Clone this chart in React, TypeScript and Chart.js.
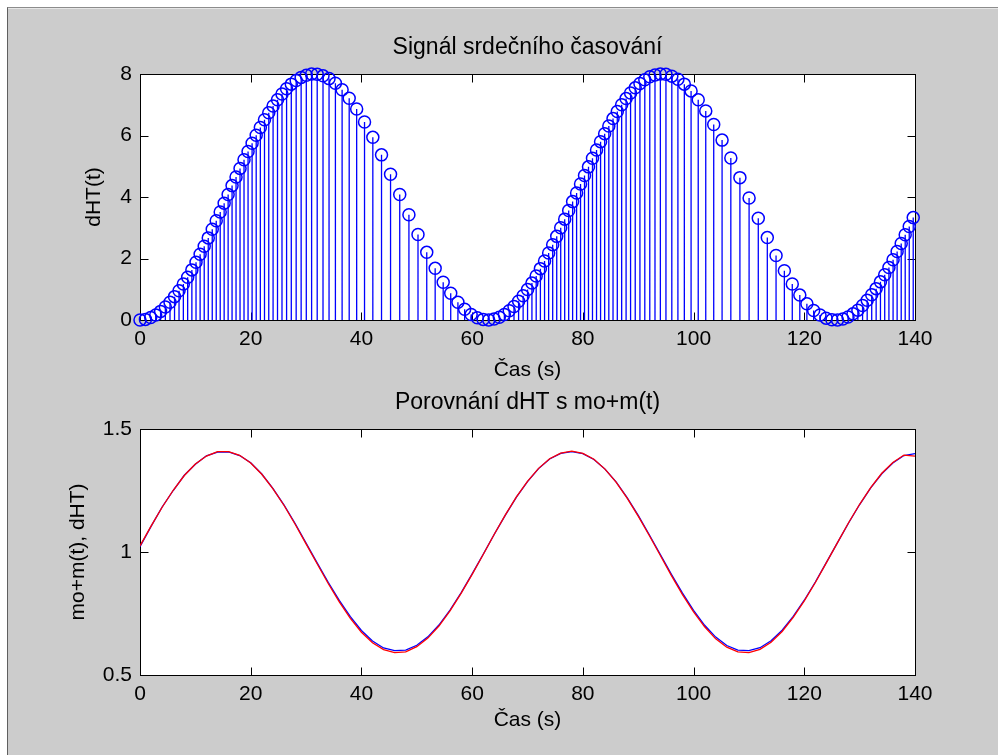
import React, { useEffect, useRef } from "react";
import { Chart, registerables } from "chart.js";
Chart.register(...registerables);

// ---- data ----
const xTicks = [0, 20, 40, 60, 80, 100, 120, 140];
const yTicksTop = [0, 2, 4, 6, 8];
const yTicksBottom = [0.5, 1, 1.5];

// stem plot: sample times (s) and dHT(t) values
const tStem = [
  0, 0.98, 1.93, 2.84, 3.72, 4.58, 5.42, 6.24, 7.05, 7.83,
  8.61, 9.37, 10.12, 10.86, 11.6, 12.33, 13.05, 13.77, 14.49, 15.2,
  15.92, 16.63, 17.35, 18.07, 18.79, 19.52, 20.25, 20.99, 21.74, 22.49,
  23.26, 24.04, 24.84, 25.65, 26.48, 27.33, 28.21, 29.11, 30.04, 31.0,
  32.01, 33.06, 34.15, 35.3, 36.51, 37.79, 39.14, 40.56, 42.06, 43.63,
  45.26, 46.92, 48.58, 50.22, 51.8, 53.32, 54.77, 56.13, 57.43, 58.65,
  59.82, 60.93, 61.99, 63.0, 63.97, 64.91, 65.82, 66.7, 67.56, 68.39,
  69.21, 70.01, 70.8, 71.57, 72.33, 73.08, 73.82, 74.55, 75.28, 76.0,
  76.72, 77.44, 78.15, 78.87, 79.58, 80.3, 81.02, 81.74, 82.47, 83.2,
  83.94, 84.69, 85.45, 86.22, 87.01, 87.81, 88.62, 89.46, 90.31, 91.19,
  92.09, 93.03, 94.0, 95.01, 96.07, 97.17, 98.33, 99.55, 100.84, 102.2,
  103.64, 105.15, 106.73, 108.37, 110.03, 111.69, 113.32, 114.9, 116.4, 117.83,
  119.19, 120.47, 121.69, 122.84, 123.94, 124.99, 126.0, 126.97, 127.9, 128.8,
  129.68, 130.53, 131.36, 132.18, 132.98, 133.76, 134.53, 135.29, 136.04, 136.77,
  137.51, 138.23, 138.96, 139.68,
];
const dHT = [
  0.0, 0.02, 0.08, 0.16, 0.28, 0.42, 0.58, 0.76, 0.95, 1.17,
  1.39, 1.63, 1.88, 2.14, 2.4, 2.67, 2.95, 3.23, 3.51, 3.8,
  4.08, 4.37, 4.65, 4.93, 5.21, 5.48, 5.75, 6.01, 6.26, 6.51,
  6.74, 6.96, 7.16, 7.35, 7.52, 7.67, 7.79, 7.89, 7.96, 8.0,
  7.99, 7.94, 7.85, 7.7, 7.49, 7.21, 6.86, 6.44, 5.94, 5.37,
  4.74, 4.08, 3.42, 2.78, 2.2, 1.68, 1.23, 0.87, 0.58, 0.35,
  0.18, 0.07, 0.02, 0.0, 0.03, 0.09, 0.18, 0.3, 0.44, 0.61,
  0.79, 0.99, 1.2, 1.43, 1.67, 1.92, 2.18, 2.45, 2.72, 3.0,
  3.28, 3.56, 3.85, 4.13, 4.42, 4.7, 4.98, 5.26, 5.53, 5.8,
  6.06, 6.31, 6.55, 6.78, 7.0, 7.2, 7.38, 7.55, 7.69, 7.81,
  7.91, 7.97, 8.0, 7.99, 7.93, 7.83, 7.67, 7.45, 7.16, 6.8,
  6.36, 5.85, 5.27, 4.63, 3.97, 3.31, 2.68, 2.1, 1.6, 1.17,
  0.81, 0.53, 0.31, 0.16, 0.06, 0.01, 0.0, 0.03, 0.1, 0.2,
  0.32, 0.47, 0.64, 0.82, 1.02, 1.24, 1.47, 1.71, 1.96, 2.23,
  2.49, 2.77, 3.04, 3.33,
];

// comparison plot
const tLine = [
  0, 2, 4, 6, 8, 10, 12, 14, 16, 18, 20, 22, 24, 26, 28, 30, 32, 34, 36, 38,
  40, 42, 44, 46, 48, 50, 52, 54, 56, 58, 60, 62, 64, 66, 68, 70, 72, 74, 76, 78,
  80, 82, 84, 86, 88, 90, 92, 94, 96, 98, 100, 102, 104, 106, 108, 110, 112, 114, 116, 118,
  120, 122, 124, 126, 128, 130, 132, 134, 136, 138, 140,
];
const moPlusM = [
  1.025, 1.105, 1.182, 1.251, 1.311, 1.358, 1.39, 1.408, 1.408, 1.393,
  1.362, 1.316, 1.258, 1.19, 1.114, 1.033, 0.952, 0.872, 0.797, 0.73,
  0.674, 0.631, 0.603, 0.591, 0.594, 0.615, 0.65, 0.699, 0.761, 0.832,
  0.909, 0.99, 1.072, 1.151, 1.224, 1.287, 1.34, 1.379, 1.402, 1.41,
  1.401, 1.377, 1.337, 1.284, 1.219, 1.146, 1.067, 0.986, 0.904, 0.827,
  0.757, 0.696, 0.647, 0.613, 0.594, 0.591, 0.604, 0.633, 0.677, 0.734,
  0.801, 0.876, 0.957, 1.038, 1.119, 1.194, 1.262, 1.32, 1.364, 1.394,
  1.39,
];
const dHTRate = [
  1.022, 1.104, 1.183, 1.25, 1.312, 1.357, 1.391, 1.406, 1.407, 1.392,
  1.363, 1.317, 1.259, 1.192, 1.117, 1.036, 0.956, 0.877, 0.803, 0.737,
  0.681, 0.638, 0.61, 0.599, 0.601, 0.621, 0.655, 0.703, 0.764, 0.834,
  0.911, 0.991, 1.072, 1.15, 1.223, 1.286, 1.339, 1.378, 1.401, 1.408,
  1.4, 1.376, 1.337, 1.285, 1.221, 1.149, 1.07, 0.99, 0.909, 0.833,
  0.763, 0.702, 0.654, 0.62, 0.601, 0.599, 0.611, 0.639, 0.682, 0.738,
  0.804, 0.878, 0.958, 1.038, 1.118, 1.193, 1.261, 1.318, 1.362, 1.392,
  1.4,
];

const FONT = '"Liberation Sans", Arial, Helvetica, sans-serif';
const TICK_SIZE = 21;
const TITLE_SIZE = 23;

const matlabAxes = {
  id: "matlabAxes",
  beforeDatasetsDraw(chart: any, _args: any, opts: any) {
    const { ctx, chartArea: a, scales } = chart;
    ctx.save();
    ctx.fillStyle = "#ffffff";
    ctx.fillRect(a.left, a.top, a.right - a.left, a.bottom - a.top);
    ctx.strokeStyle = "#000000";
    ctx.lineWidth = 1;
    const l = Math.round(a.left) + 0.5;
    const r = Math.round(a.right) + 0.5;
    const t = Math.round(a.top) + 0.5;
    const b = Math.round(a.bottom) + 0.5;
    ctx.strokeRect(l, t, r - l, b - t);
    const L = 8;
    ctx.beginPath();
    scales.x.ticks.forEach((tk: any) => {
      const px = Math.round(scales.x.getPixelForValue(tk.value)) + 0.5;
      ctx.moveTo(px, b);
      ctx.lineTo(px, b - L);
      ctx.moveTo(px, t);
      ctx.lineTo(px, t + L);
    });
    scales.y.ticks.forEach((tk: any) => {
      const py = Math.round(scales.y.getPixelForValue(tk.value)) + 0.5;
      ctx.moveTo(l, py);
      ctx.lineTo(l + L, py);
      ctx.moveTo(r, py);
      ctx.lineTo(r - L, py);
    });
    ctx.stroke();
    if (opts && opts.stem) {
      const meta = chart.getDatasetMeta(0);
      const y0 = scales.y.getPixelForValue(0);
      ctx.strokeStyle = "#0000ff";
      ctx.lineWidth = 1.3;
      ctx.beginPath();
      meta.data.forEach((el: any) => {
        ctx.moveTo(el.x, y0);
        ctx.lineTo(el.x, el.y);
      });
      ctx.stroke();
    }
    ctx.restore();
  },
};

function makeScales(opts: {
  yTicks: number[];
  yMin: number;
  yMax: number;
  yTitle: string;
  yTitlePad: number;
  xHeight: number;
  xTitlePad: number;
}) {
  const tickFont = { family: FONT, size: TICK_SIZE, weight: "normal" as const };
  return {
    x: {
      type: "linear" as const,
      min: 0,
      max: 140,
      offset: false,
      grid: { display: false, drawTicks: false },
      border: { display: false },
      afterBuildTicks: (s: any) => {
        s.ticks = xTicks.map((v) => ({ value: v }));
      },
      afterFit: (s: any) => {
        s.height = opts.xHeight;
      },
      ticks: {
        color: "#000",
        font: tickFont,
        padding: 7,
        maxRotation: 0,
        autoSkip: false,
        callback: (v: any) => String(v),
      },
      title: {
        display: true,
        text: "Čas (s)",
        color: "#000",
        font: tickFont,
        padding: { top: 0, bottom: opts.xTitlePad },
      },
    },
    y: {
      type: "linear" as const,
      min: opts.yMin,
      max: opts.yMax,
      grid: { display: false, drawTicks: false },
      border: { display: false },
      afterBuildTicks: (s: any) => {
        s.ticks = opts.yTicks.map((v) => ({ value: v }));
      },
      afterFit: (s: any) => {
        s.width = 140;
      },
      ticks: {
        color: "#000",
        font: tickFont,
        padding: 8,
        autoSkip: false,
        callback: (v: any) => String(v),
      },
      title: {
        display: true,
        text: opts.yTitle,
        color: "#000",
        font: tickFont,
        padding: { top: opts.yTitlePad, bottom: 0 },
      },
    },
  };
}

export default function App() {
  const c1 = useRef<HTMLCanvasElement>(null);
  const c2 = useRef<HTMLCanvasElement>(null);

  useEffect(() => {
    const top = new Chart(c1.current as HTMLCanvasElement, {
      type: "scatter",
      data: {
        datasets: [
          {
            data: tStem.map((t, i) => ({ x: t, y: dHT[i] })),
            showLine: false,
            pointStyle: "circle",
            pointRadius: 6,
            pointHoverRadius: 6,
            pointBorderColor: "#0000ff",
            pointBackgroundColor: "rgba(0,0,0,0)",
            pointBorderWidth: 1.5,
            clip: false as any,
          },
        ],
      },
      options: {
        animation: false,
        responsive: false,
        maintainAspectRatio: false,
        devicePixelRatio: 1,
        events: [],
        layout: { padding: { left: 0, right: 83, top: 0, bottom: 0 } },
        plugins: {
          legend: { display: false },
          tooltip: { enabled: false },
          title: {
            display: true,
            text: "Signál srdečního časování",
            color: "#000",
            fullSize: false,
            font: { family: FONT, size: TITLE_SIZE, weight: "normal" },
            padding: { top: 34.2, bottom: 12.2 },
          },
          matlabAxes: { stem: true },
        } as any,
        scales: makeScales({
          yTicks: yTicksTop,
          yMin: 0,
          yMax: 8,
          yTitle: "dHT(t)",
          yTitlePad: 82,
          xHeight: 80,
          xTitlePad: 17.4,
        }) as any,
      },
      plugins: [matlabAxes],
    });

    const bottom = new Chart(c2.current as HTMLCanvasElement, {
      type: "line",
      data: {
        datasets: [
          {
            data: tLine.map((t, i) => ({ x: t, y: moPlusM[i] })),
            borderColor: "#ff0000",
            borderWidth: 1.3,
            pointRadius: 0,
            tension: 0,
            fill: false,
          },
          {
            data: tLine.map((t, i) => ({ x: t, y: dHTRate[i] })),
            borderColor: "#0000ff",
            borderWidth: 1.3,
            pointRadius: 0,
            tension: 0,
            fill: false,
          },
        ],
      },
      options: {
        animation: false,
        responsive: false,
        maintainAspectRatio: false,
        devicePixelRatio: 1,
        events: [],
        layout: { padding: { left: 0, right: 83, top: 0, bottom: 0 } },
        plugins: {
          legend: { display: false },
          tooltip: { enabled: false },
          title: {
            display: true,
            text: "Porovnání dHT s mo+m(t)",
            color: "#000",
            fullSize: false,
            font: { family: FONT, size: TITLE_SIZE, weight: "normal" },
            padding: { top: 9.2, bottom: 12.2 },
          },
          matlabAxes: { stem: false },
        } as any,
        scales: makeScales({
          yTicks: yTicksBottom,
          yMin: 0.5,
          yMax: 1.5,
          yTitle: "mo+m(t), dHT)",
          yTitlePad: 66,
          xHeight: 80,
          xTitlePad: 22.4,
        }) as any,
      },
      plugins: [matlabAxes],
    });

    return () => {
      top.destroy();
      bottom.destroy();
    };
  }, []);

  return (
    <div
      style={{
        position: "fixed",
        left: 0,
        top: 0,
        width: 998,
        height: 755,
        background: "#ffffff",
        overflow: "hidden",
      }}
    >
      <div
        style={{
          position: "absolute",
          left: 7,
          top: 7,
          right: 0,
          bottom: 0,
          background: "#cccccc",
          borderTop: "1px solid #8c8c8c",
          borderLeft: "1px solid #5f5f5f",
          boxShadow: "inset 0 1px 0 #e6e6e6",
        }}
      />
      <canvas
        ref={c1}
        width={998}
        height={400}
        style={{ position: "absolute", left: 0, top: 0 }}
      />
      <canvas
        ref={c2}
        width={998}
        height={375}
        style={{ position: "absolute", left: 0, top: 380 }}
      />
    </div>
  );
}
